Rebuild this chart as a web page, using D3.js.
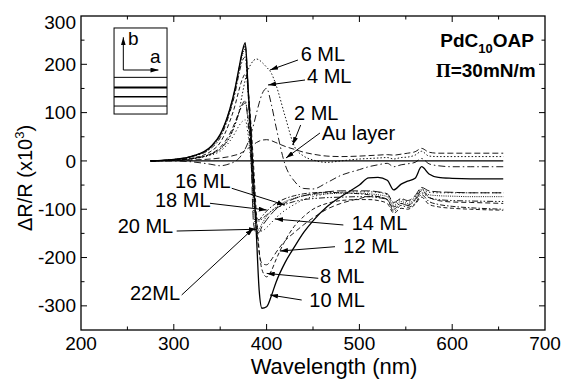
<!DOCTYPE html>
<html><head><meta charset="utf-8">
<script src="https://cdn.jsdelivr.net/npm/d3@7"></script>
<style>
body{margin:0;background:#fff}
svg{display:block}
text{font-family:"Liberation Sans",Arial,Helvetica,sans-serif;fill:#000}
</style>
</head><body>
<svg id="chart" width="564" height="380"></svg>
<script>
// ---------- data ----------
const wavelengths = [275, 300, 320, 340, 350, 360, 366, 370, 374, 377, 380, 383, 386, 389, 392, 395, 400, 405, 410, 420, 430, 440, 450, 465, 480, 500, 510, 520, 530, 537, 545, 552, 560, 567, 575, 585, 600, 620, 655];
const auLayer = wavelengths.map(() => 0);
const ml2  = [0, 1, 2, 4, 6, 9, 12, 14, 18, 22, 26, 30, 34, 38, 41, 43, 44, 42, 38, 30, 24, 18, 14, 10, 9, 10, 11, 12, 13, 12, 14, 16, 19, 26, 18, 16, 16, 16, 16];
const ml4  = [0, 0, -2, -7, -10, -6, -1, 5, 15, 25, 38, 55, 75, 98, 120, 138, 150, 118, 72, -8, -42, -57, -58, -45, -30, -18, -12, -8, -5, -12, -8, -6, -3, 5, -6, -10, -12, -12, -12];
const ml6  = [0, 2, 5, 14, 24, 48, 75, 100, 140, 168, 188, 200, 208, 211, 209, 204, 194, 182, 158, 92, 30, 10, 2, -3, 0, 4, 5, 6, 7, 4, 7, 8, 12, 20, 10, 9, 9, 9, 9];
const ml8  = [0, 2, 6, 20, 38, 80, 115, 145, 170, 180, 150, 80, -10, -110, -185, -225, -240, -228, -205, -165, -135, -115, -100, -88, -82, -80, -80, -82, -88, -108, -98, -100, -90, -75, -90, -95, -98, -100, -102];
const ml10 = [0, 3, 10, 30, 55, 105, 150, 190, 228, 245, 153, 61, -38, -153, -268, -305, -302, -280, -252, -210, -178, -148, -124, -95, -74, -50, -35, -34, -40, -60, -48, -42, -36, -12, -27, -34, -36, -37, -37];
const ml12 = [0, 2, 5, 15, 28, 55, 80, 100, 115, 120, 90, 30, -50, -130, -190, -212, -215, -205, -190, -165, -148, -132, -118, -100, -88, -78, -74, -74, -80, -100, -88, -92, -80, -62, -75, -82, -85, -86, -88];
const ml14 = [0, 1, 4, 12, 20, 40, 58, 72, 82, 85, 55, 0, -70, -125, -145, -145, -138, -128, -118, -102, -90, -80, -74, -68, -65, -64, -64, -65, -70, -88, -80, -84, -75, -58, -65, -66, -66, -66, -66];
const ml16 = [0, 1, 5, 14, 25, 50, 75, 98, 118, 125, 80, 10, -70, -115, -125, -120, -112, -104, -98, -90, -84, -80, -78, -76, -75, -74, -74, -76, -80, -95, -88, -92, -82, -66, -76, -80, -82, -83, -84];
const ml18 = [0, 3, 9, 26, 48, 98, 140, 178, 208, 215, 140, 40, -70, -118, -122, -115, -104, -95, -88, -78, -72, -68, -66, -65, -66, -68, -70, -74, -80, -104, -92, -96, -88, -70, -84, -90, -94, -97, -100];
const ml20 = [0, 3, 10, 28, 52, 102, 146, 185, 220, 232, 150, 45, -100, -140, -140, -130, -115, -104, -96, -84, -77, -72, -70, -68, -67, -67, -68, -70, -74, -92, -84, -88, -78, -60, -70, -72, -73, -74, -74];
const ml22 = [0, 3, 10, 29, 54, 104, 148, 188, 225, 238, 155, 20, -130, -150, -148, -136, -122, -110, -100, -87, -78, -72, -68, -64, -62, -62, -62, -64, -68, -86, -78, -82, -72, -55, -62, -64, -65, -66, -66];

const seriesNames = ["Au layer", "2 ML", "4 ML", "6 ML", "8 ML", "10 ML", "12 ML", "14 ML", "16 ML", "18 ML", "20 ML", "22ML"];
const seriesValues = [auLayer, ml2, ml4, ml6, ml8, ml10, ml12, ml14, ml16, ml18, ml20, ml22];

const xTicks = [200, 300, 400, 500, 600, 700];
const xMinorTicks = [250, 350, 450, 550, 650];
const yTicks = [-300, -200, -100, 0, 100, 200, 300];
const yMinorTicks = [-250, -150, -50, 50, 150, 250];

// annotation text, label anchor (nm, value), leader start (nm, value), arrow tip (nm, value)
const annotations = [
  {t:"6 ML",    lx:436.7, ly:207.5, sx:433.8, sy:208.9, ex:403.7, ey:188.2},
  {t:"4 ML",    lx:443.5, ly:161.9, sx:441.4, sy:167.5, ex:401.5, ey:157.2},
  {t:"2 ML",    lx:429.5, ly:84.7,  sx:436.7, sy:74.4,  ex:428.1, ey:33.0},
  {t:"Au layer",lx:459.4, ly:43.3,  sx:457.5, sy:57.8,  ex:420.9, ey:6.1},
  {t:"16 ML",   lx:301.3, ly:-56.0, sx:362.4, sy:-56.6, ex:419.8, ey:-91.4},
  {t:"18 ML",   lx:279.7, ly:-95.5, sx:339.0, sy:-87.7, ex:400.1, ey:-101.6},
  {t:"20 ML",   lx:239.5, ly:-149.8,sx:303.1, sy:-145.1,ex:389.3, ey:-141.5},
  {t:"22ML",    lx:252.8, ly:-287.9,sx:308.5, sy:-277.5,ex:385.7, ey:-139.9},
  {t:"14 ML",   lx:491.7, ly:-143.0,sx:482.7, sy:-132.6,ex:409.1, ey:-120.2},
  {t:"12 ML",   lx:482.7, ly:-190.0,sx:473.7, sy:-177.6,ex:414.4, ey:-186.5},
  {t:"8 ML",    lx:457.5, ly:-253.3,sx:455.7, sy:-243.0,ex:400.1, ey:-232.8},
  {t:"10 ML",   lx:446.0, ly:-301.8,sx:437.8, sy:-287.9,ex:403.7, ey:-277.5}
];

// ---------- styles ----------
const dashes = {
  "Au layer":"", "2 ML":"6,3", "4 ML":"7,3,1.5,3", "6 ML":"1.5,2", "8 ML":"4,2.5",
  "10 ML":"", "12 ML":"5,3", "14 ML":"1.2,2.5", "16 ML":"6,2,1.5,2,1.5,2",
  "18 ML":"5,2,1.5,2", "20 ML":"1,1.2", "22ML":"9,3"
};
const widths = {"10 ML":1.3, "Au layer":1.1};

// ---------- chart ----------
const svg = d3.select("#chart");
const x = d3.scaleLinear().domain([200, 700]).range([81, 545]);
const y = d3.scaleLinear().domain([-350, 300]).range([330, 16]);

const g = svg.append("g");

// series
const line = d3.line().x((d,i)=>x(wavelengths[i])).y(d=>y(d)).curve(d3.curveMonotoneX);
seriesValues.forEach((vals, k) => {
  const name = seriesNames[k];
  g.append("path").datum(vals)
    .attr("d", line)
    .attr("fill", "none")
    .attr("stroke", "#000")
    .attr("stroke-width", widths[name] || 0.9)
    .attr("stroke-dasharray", dashes[name] || null);
});

// frame
svg.append("rect").attr("x", x(200)).attr("y", y(300))
  .attr("width", x(700)-x(200)).attr("height", y(-350)-y(300))
  .attr("fill","none").attr("stroke","#000").attr("stroke-width",1.3);

// ticks (inward, all four sides)
const tk = svg.append("g").attr("stroke","#000").attr("stroke-width",1);
function vt(vals, len){
  vals.forEach(v=>{
    tk.append("line").attr("x1",x(v)).attr("x2",x(v)).attr("y1",y(-350)).attr("y2",y(-350)-len);
    tk.append("line").attr("x1",x(v)).attr("x2",x(v)).attr("y1",y(300)).attr("y2",y(300)+len);
  });
}
function ht(vals, len){
  vals.forEach(v=>{
    tk.append("line").attr("y1",y(v)).attr("y2",y(v)).attr("x1",x(200)).attr("x2",x(200)+len);
    tk.append("line").attr("y1",y(v)).attr("y2",y(v)).attr("x1",x(700)).attr("x2",x(700)-len);
  });
}
vt(xTicks.slice(1,-1), 6); vt(xMinorTicks, 3.5);
ht(yTicks.slice(0,-1), 6); ht(yMinorTicks, 3.5);

// tick labels
svg.append("g").selectAll("text").data(xTicks).join("text")
  .attr("x", d=>x(d)).attr("y", 350).attr("text-anchor","middle")
  .attr("font-size", 19).text(d=>d);
svg.append("g").selectAll("text").data(yTicks).join("text")
  .attr("x", 76).attr("y", d=>y(d) + (d===300 ? 6 : 0)).attr("dy","0.35em")
  .attr("text-anchor","end").attr("font-size", 19).text(d=>d);

// axis titles
svg.append("text").attr("x", 334).attr("y", 374).attr("text-anchor","middle")
  .attr("font-size", 22).text("Wavelength (nm)");
const yt = svg.append("text").attr("transform","translate(32,178) rotate(-90)")
  .attr("text-anchor","middle").attr("font-size", 20);
yt.append("tspan").text("\u0394R/R (x10");
yt.append("tspan").attr("font-size",13).attr("dy",-8).text("3");
yt.append("tspan").attr("dy",8).text(")");

// title block
const t1 = svg.append("text").attr("x", x(688)).attr("y", 46.5).attr("text-anchor","end")
  .attr("font-size", 19).attr("font-weight","bold");
t1.append("tspan").text("PdC");
t1.append("tspan").attr("font-size",13).attr("dy",6).text("10");
t1.append("tspan").attr("dy",-6).text("OAP");
const t2 = svg.append("text").attr("x", x(690)).attr("y", 76.5).attr("text-anchor","end")
  .attr("font-size", 19).attr("font-weight","bold");
t2.append("tspan").attr("font-family","'Liberation Serif','Times New Roman',serif").text("\u03A0");
t2.append("tspan").text("=30mN/m");

// inset schematic
const ins = svg.append("g").attr("stroke","#000").attr("fill","none");
ins.append("rect").attr("x", x(235.6)).attr("y", y(275.2))
  .attr("width", x(292.7)-x(235.6)).attr("height", y(97.1)-y(275.2)).attr("stroke-width",1);
[[173,1],[152.2,2],[132.8,1.3],[113.6,1]].forEach(([v,w])=>{
  ins.append("line").attr("x1",x(235.6)).attr("x2",x(292.7)).attr("y1",y(v)).attr("y2",y(v)).attr("stroke-width",w);
});
const defs = svg.append("defs");
defs.append("marker").attr("id","ah").attr("viewBox","0 0 10 6").attr("refX",10).attr("refY",3)
  .attr("markerWidth",8).attr("markerHeight",5).attr("markerUnits","userSpaceOnUse").attr("orient","auto")
  .append("path").attr("d","M0,0 L10,3 L0,6 Z").attr("fill","#000").attr("stroke","none");
ins.append("line").attr("x1",x(245.6)).attr("y1",y(188.2)).attr("x2",x(245.6)).attr("y2",y(256))
  .attr("stroke-width",1).attr("marker-end","url(#ah)");
ins.append("line").attr("x1",x(245.6)).attr("y1",y(188.2)).attr("x2",x(283.5)).attr("y2",y(188.2))
  .attr("stroke-width",1).attr("marker-end","url(#ah)");
svg.append("text").attr("x",x(250.6)).attr("y",y(240)).attr("font-size",19).text("b");
svg.append("text").attr("x",x(274.4)).attr("y",y(202.6)).attr("font-size",19).text("a");

// annotations
const an = svg.append("g");
annotations.forEach(a=>{
  an.append("line").attr("x1",x(a.sx)).attr("y1",y(a.sy)).attr("x2",x(a.ex)).attr("y2",y(a.ey))
    .attr("stroke","#000").attr("stroke-width",1).attr("marker-end","url(#ah)");
  an.append("text").attr("x",x(a.lx)).attr("y",y(a.ly)).attr("font-size",20).text(a.t);
});
</script>
</body></html>
